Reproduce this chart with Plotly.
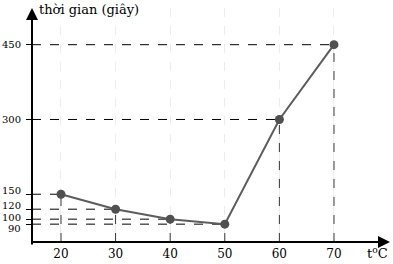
import plotly.graph_objects as go

# Data
temps = [20, 30, 40, 50, 60, 70]
times = [150, 120, 100, 90, 300, 450]
x_ticks = [20, 30, 40, 50, 60, 70]
y_ticks = [90, 100, 120, 150, 300, 450]
x_title = "t<sup>o</sup>C"
y_title = "thời gian (giây)"

FONT = "DejaVu Serif"
X_RANGE = [14.69, 80.26]
Y_RANGE = [54.2, 523.6]
# small vertical nudges (px) so the crowded low labels stay readable
label_nudge = {90: -4, 100: 2, 120: 4, 150: 4, 300: 0, 450: 0}

fig = go.Figure()

shapes = []
for t, v in zip(temps, times):
    shapes.append(dict(type="line", xref="x", yref="y", x0=X_RANGE[0], x1=t, y0=v, y1=v,
                       line=dict(color="black", width=1, dash="dash"), layer="below"))
    shapes.append(dict(type="line", xref="x", yref="y", x0=t, x1=t, y0=Y_RANGE[0], y1=v,
                       line=dict(color="#333333", width=1, dash="dash"), layer="below"))

fig.add_trace(go.Scatter(
    x=temps, y=times, mode="lines+markers",
    line=dict(color="#5c5c5c", width=2),
    marker=dict(color="#505050", size=9),
    hoverinfo="skip", showlegend=False, cliponaxis=False,
))

annotations = [
    dict(xref="paper", yref="paper", x=1, y=0, ax=-360, ay=0, axref="pixel", ayref="pixel",
         text="", showarrow=True, arrowhead=2, arrowsize=1.2, arrowwidth=2, arrowcolor="black"),
    dict(xref="paper", yref="paper", x=0, y=1, ax=0, ay=238, axref="pixel", ayref="pixel",
         text="", showarrow=True, arrowhead=2, arrowsize=1.2, arrowwidth=2, arrowcolor="black"),
    dict(xref="paper", yref="paper", x=0.013, y=1, yshift=8, xanchor="left", yanchor="top",
         text=y_title, showarrow=False, font=dict(family=FONT, size=13, color="black")),
    dict(xref="paper", yref="paper", x=1.0, y=0, yshift=-11, xanchor="right", yanchor="middle",
         text=x_title, showarrow=False, font=dict(family=FONT, size=13, color="black")),
]
for v in y_ticks:
    annotations.append(dict(xref="paper", yref="y", x=0, y=v, xshift=-9, yshift=label_nudge[v],
                            xanchor="right", yanchor="middle", text=str(v), showarrow=False,
                            font=dict(family=FONT, size=10, color="black")))

fig.update_layout(
    width=393, height=264,
    margin=dict(l=32, r=3, t=8, b=20),
    paper_bgcolor="white", plot_bgcolor="white",
    shapes=shapes, annotations=annotations,
    xaxis=dict(range=X_RANGE, tickvals=x_ticks, ticktext=[str(v) for v in x_ticks],
               showgrid=True, gridcolor="#ececec", griddash="dash", gridwidth=1,
               zeroline=False, showline=False, ticks="", ticklabelstandoff=3,
               tickfont=dict(family=FONT, size=12, color="black")),
    yaxis=dict(range=Y_RANGE, tickvals=y_ticks, ticktext=["" for _ in y_ticks],
               showgrid=False, zeroline=False, showline=False,
               ticks="outside", ticklen=5, tickcolor="black", tickwidth=1),
)

fig.write_html("out.html")
